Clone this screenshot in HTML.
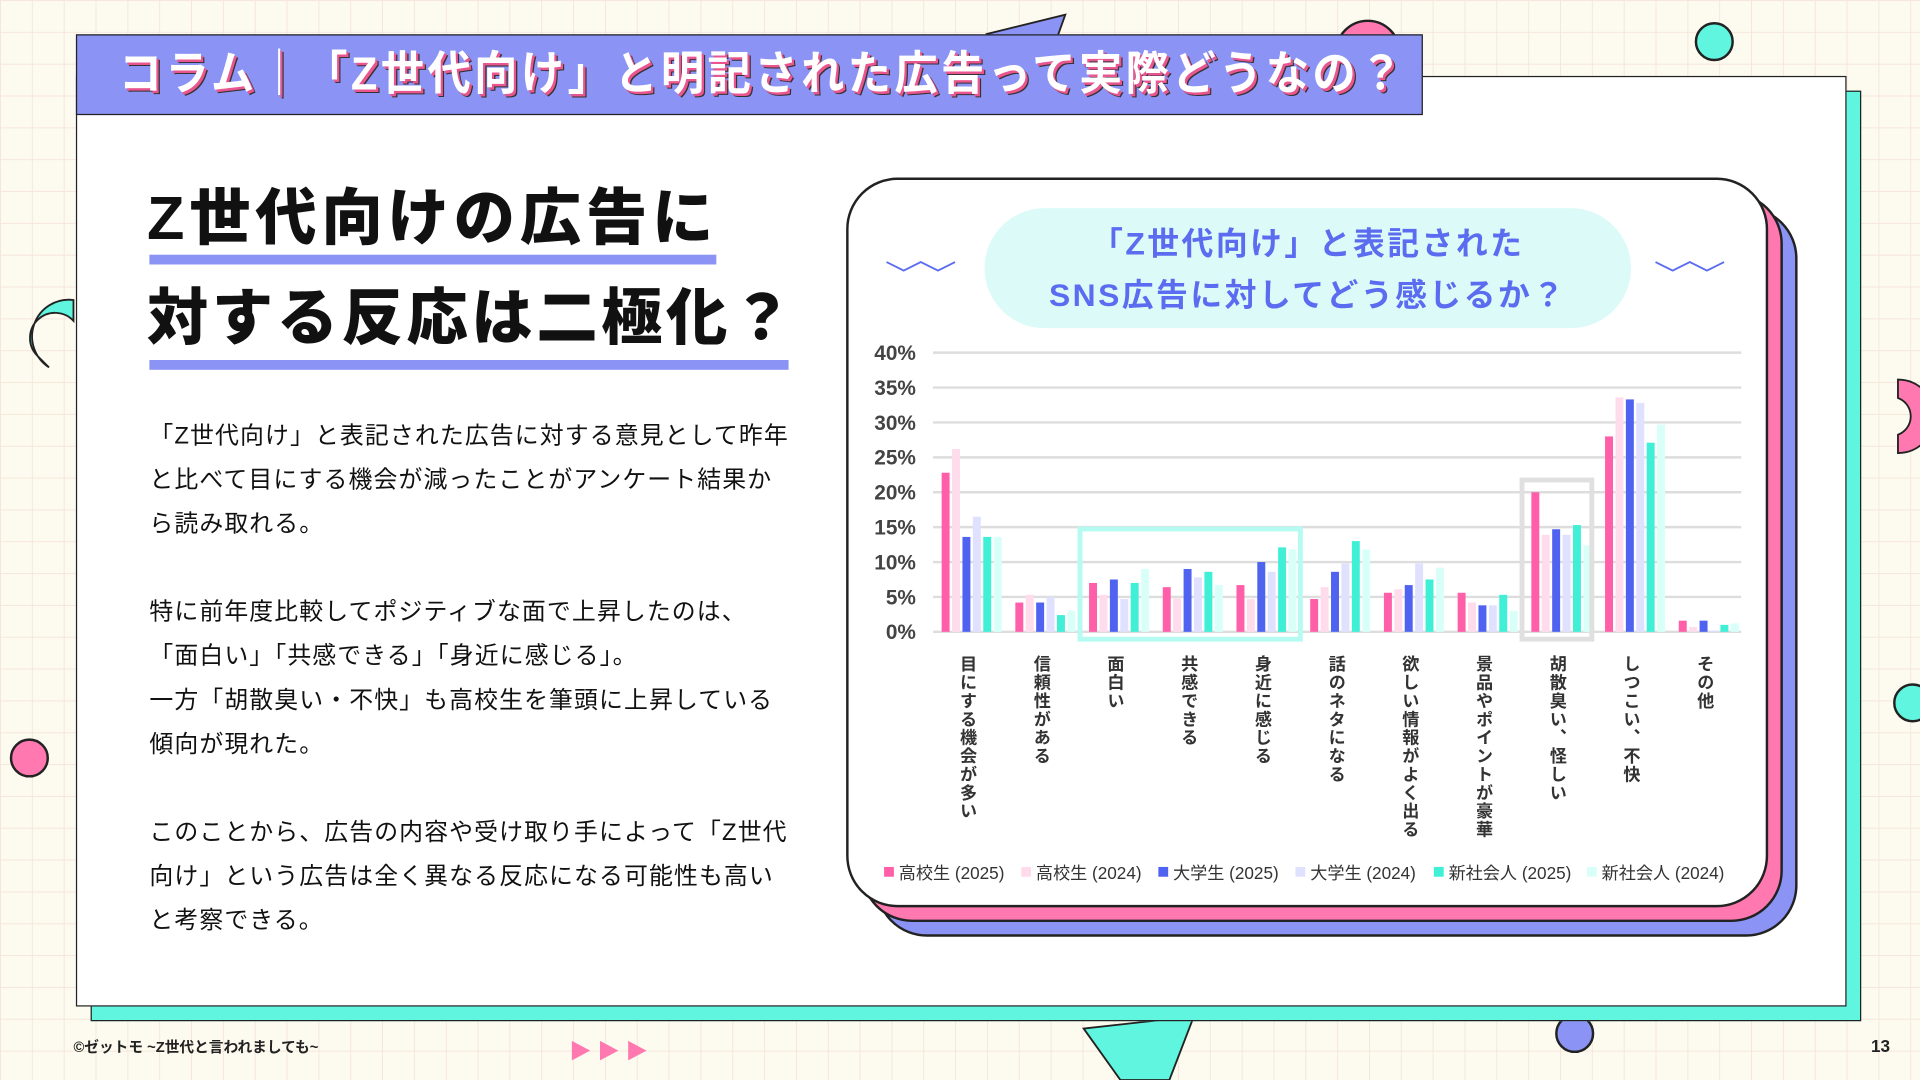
<!DOCTYPE html>
<html><head><meta charset="utf-8"><style>
html,body{margin:0;padding:0;width:1920px;height:1080px;overflow:hidden;background:#fdfbef}
#s{position:absolute;left:0;top:0;width:1568px;height:882px;transform:scale(1.22449);transform-origin:0 0;
font-family:"Liberation Sans","Noto Sans CJK JP",sans-serif;
background-color:#fdfbef;
background-image:linear-gradient(#f6e6dc 1px,transparent 1px),linear-gradient(90deg,#f6e6dc 1px,transparent 1px);
background-size:26px 26px;}
.abs{position:absolute}
.body p{margin:0;font-size:19.5px;line-height:36px;color:#111;white-space:nowrap;letter-spacing:0.9px}
</style></head><body><div id="s">
<div class="abs" style="left:1384px;top:18px;width:28px;height:28px;border-radius:50%;background:#5ff5df;border:2px solid #222"></div>
<div class="abs" style="left:8px;top:603px;width:28px;height:28px;border-radius:50%;background:#ff78b0;border:2px solid #222"></div>
<div class="abs" style="left:1270px;top:828px;width:28px;height:28px;border-radius:50%;background:#8b93f5;border:2px solid #222"></div>
<div class="abs" style="left:1546px;top:558px;width:28px;height:28px;border-radius:50%;background:#5ff5df;border:2px solid #222"></div>
<div class="abs" style="left:1090px;top:16px;width:50px;height:50px;border-radius:50%;background:#ff78b0;border:2px solid #222"></div>
<svg class="abs" style="left:0;top:0" width="1568" height="882">
<path d="M40 300 A30 30 0 0 1 60 245 L60 262 A16 16 0 0 0 30 290 Z" fill="#5ff5df" stroke="#222" stroke-width="1.5"/>
<path d="M1550 310 A30 30 0 0 1 1550 370 L1550 355 A16 16 0 0 0 1550 325 Z" fill="#ff78b0" stroke="#222" stroke-width="1.5"/>
<polygon points="805,28 870,12 860,40" fill="#8b93f5" stroke="#222" stroke-width="1.5"/>
<polygon points="885,840 975,830 955,882 915,882" fill="#5ff5df" stroke="#222" stroke-width="1.5"/>
<polygon points="467,850 482,858 467,866" fill="#ff78b0"/><polygon points="490,850 505,858 490,866" fill="#ff78b0"/><polygon points="513,850 528,858 513,866" fill="#ff78b0"/>
</svg>
<div class="abs" style="left:74px;top:74px;width:1444px;height:758px;background:#5ff5df;border:1.5px solid #222"></div>
<div class="abs" style="left:62px;top:62px;width:1444px;height:758px;background:#fff;border:1.5px solid #222"></div>
<div class="abs" style="left:62px;top:28px;width:1100px;height:66px;background:#8b93f5;border:1.5px solid #222;box-sizing:border-box;overflow:hidden">
<div style="position:absolute;left:34px;top:0;white-space:nowrap;color:#fff;font-size:38px;font-weight:bold;line-height:64px;letter-spacing:3px;transform:scaleX(0.93);transform-origin:0 0;text-shadow:2px 2px 0 #e8558f,3px 3px 0 #333">コラム｜「Z世代向け」と明記された広告って実際どうなの？</div></div>
<div class="abs" style="left:120px;top:138px;font-size:50px;font-weight:900;letter-spacing:4px;line-height:80px;color:#111;white-space:nowrap">Z世代向けの広告に</div>
<div class="abs" style="left:122px;top:208px;width:463px;height:8px;background:#8b93f5"></div>
<div class="abs" style="left:120px;top:220px;font-size:50px;font-weight:900;letter-spacing:3px;line-height:80px;color:#111;white-space:nowrap">対する反応は二極化？</div>
<div class="abs" style="left:122px;top:294px;width:522px;height:8px;background:#8b93f5"></div>
<div class="abs body" style="left:122px;top:338px;width:540px">
<p>「Z世代向け」と表記された広告に対する意見として昨年</p><p>と比べて目にする機会が減ったことがアンケート結果か</p><p>ら読み取れる。</p><p>&nbsp;</p>
<p>特に前年度比較してポジティブな面で上昇したのは、</p><p>「面白い」「共感できる」「身近に感じる」。</p><p>一方「胡散臭い・不快」も高校生を筆頭に上昇している</p><p>傾向が現れた。</p><p>&nbsp;</p>
<p>このことから、広告の内容や受け取り手によって「Z世代</p><p>向け」という広告は全く異なる反応になる可能性も高い</p><p>と考察できる。</p></div>
<div class="abs" style="left:715px;top:169px;width:753px;height:596px;border-radius:42px;background:#8b93f5;border:2px solid #222;box-sizing:border-box"></div>
<div class="abs" style="left:703px;top:157px;width:753px;height:596px;border-radius:42px;background:#ff78b0;border:2px solid #222;box-sizing:border-box"></div>
<div class="abs" style="left:691px;top:145px;width:753px;height:596px;border-radius:42px;background:#fff;border:2px solid #222;box-sizing:border-box"></div>
<div class="abs" style="left:804px;top:170px;width:528px;height:98px;border-radius:49px;background:#dcfbf8;color:#5b6cf0;font-size:26px;font-weight:bold;text-align:center;line-height:42px;padding-top:8px;box-sizing:border-box;letter-spacing:2px">「Z世代向け」と表記された<br>SNS広告に対してどう感じるか？</div>
<svg class="abs" style="left:0;top:0" width="1568" height="882" font-family="Liberation Sans, Noto Sans CJK JP, sans-serif">
<polyline points="724,214 738,221 752,214 766,221 780,214" fill="none" stroke="#5b6cf0" stroke-width="1.5"/>
<polyline points="1352,214 1366,221 1380,214 1394,221 1408,214" fill="none" stroke="#5b6cf0" stroke-width="1.5"/>
<g id="grid" stroke="#ddd" stroke-width="2"></g>
<g id="yl" font-size="17" font-weight="bold" fill="#444" text-anchor="end"></g>
<g id="bars"></g>
<rect x="882" y="432" width="180" height="90" fill="none" stroke="#b6fbf1" stroke-width="4"/>
<rect x="1243" y="392" width="57" height="130" fill="none" stroke="#e0e0e0" stroke-width="4"/>
<g id="lg" font-size="14" fill="#333"></g>
</svg>
<div id="xl"></div>
<div class="abs" style="left:60px;top:846px;font-size:12px;font-weight:bold;color:#222">©ゼットモ ~Z世代と言われましても~</div>
<div class="abs" style="left:1528px;top:846px;font-size:14px;font-weight:bold;color:#222">13</div>
</div>
<script>
var NS="http://www.w3.org/2000/svg";
function el(p,t,a,txt){var e=document.createElementNS(NS,t);for(var k in a)e.setAttribute(k,a[k]);if(txt)e.textContent=txt;document.getElementById(p).appendChild(e);}
var y0=516,k=5.7;
for(var i=0;i<=8;i++){var y=y0-i*5*k;el("grid","line",{x1:762,x2:1422,y1:y,y2:y});el("yl","text",{x:748,y:y+6},(i*5)+"%");}
var C=["#ff5fa8","#ffdcec","#4f63f0","#dfe1ff","#3ff0d6","#d8fff8"];
var D=[[22.8,26.2,13.6,16.5,13.6,13.6],[4.2,5.3,4.2,5.0,2.4,3.0],[7.0,5.3,7.5,4.7,7.0,9.0],[6.4,4.8,9.0,7.8,8.6,6.7],[6.7,4.7,10.0,8.6,12.1,11.8],[4.7,6.4,8.6,9.8,13.0,11.8],[5.6,6.1,6.7,9.8,7.5,9.2],[5.6,4.2,3.8,3.8,5.3,3.0],[20.0,13.9,14.7,13.9,15.3,12.4],[28.0,33.6,33.3,32.8,27.1,29.7],[1.6,0.7,1.6,0.2,1.0,1.2]];
var L=["目にする機会が多い","信頼性がある","面白い","共感できる","身近に感じる","話のネタになる","欲しい情報がよく出る","景品やポイントが豪華","胡散臭い、怪しい","しつこい、不快","その他"];
var xl=document.getElementById("xl");
D.forEach(function(g,gi){var x0=769+gi*60.2;g.forEach(function(v,j){el("bars","rect",{x:x0+j*8.5,y:y0-v*k,width:6.5,height:v*k,fill:C[j]});});
var d=document.createElement("div");d.className="abs";d.style.cssText="left:"+(x0+12)+"px;top:535px;writing-mode:vertical-rl;font-size:14px;font-weight:bold;color:#333;letter-spacing:1px";d.textContent=L[gi];xl.appendChild(d);});
var LG=["高校生 (2025)","高校生 (2024)","大学生 (2025)","大学生 (2024)","新社会人 (2025)","新社会人 (2024)"],LX=[722,834,946,1058,1171,1296];
LG.forEach(function(t,i){el("lg","rect",{x:LX[i],y:708,width:8,height:8,fill:C[i]});el("lg","text",{x:LX[i]+12,y:718},t);});
</script>
</body></html>
